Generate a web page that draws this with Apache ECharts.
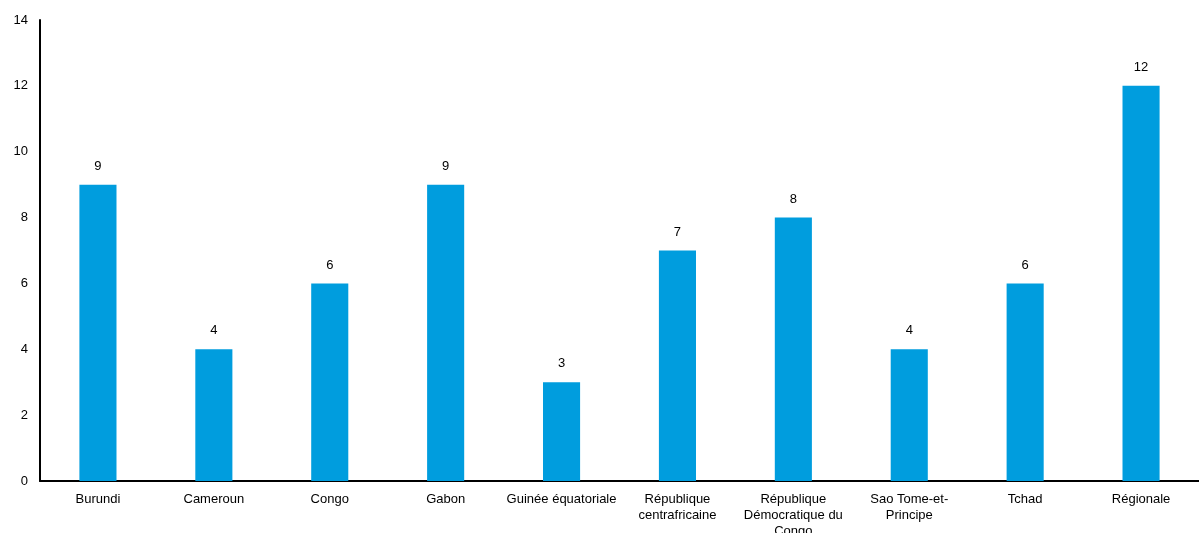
<!DOCTYPE html>
<html>
<head>
<meta charset="utf-8">
<script src="https://cdn.jsdelivr.net/npm/echarts@6/dist/echarts.min.js"></script>
<style>
  html, body { margin: 0; padding: 0; background: #fff; }
  #main { width: 1199px; height: 533px; }
</style>
</head>
<body>
<div id="main"></div>
<script>
var categories = ['Burundi', 'Cameroun', 'Congo', 'Gabon', 'Guinée équatoriale',
  'République\ncentrafricaine', 'République\nDémocratique du\nCongo',
  'Sao Tome-et-\nPrincipe', 'Tchad', 'Régionale'];
var values = [9, 4, 6, 9, 3, 7, 8, 4, 6, 12];

var chart = echarts.init(document.getElementById('main'));

var option = {
  animation: false,
  textStyle: { fontFamily: 'Liberation Sans, Arial, sans-serif' },
  grid: { left: 40, right: 0, top: 20, bottom: 52, outerBoundsMode: 'none', containLabel: false },
  xAxis: {
    type: 'category',
    data: categories,
    axisTick: { show: false },
    axisLine: { lineStyle: { color: '#000', width: 2 } },
    axisLabel: { color: '#000', fontSize: 13, lineHeight: 16, margin: 10, interval: 0 }
  },
  yAxis: {
    type: 'value',
    min: 0,
    max: 14,
    interval: 2,
    axisLine: { show: true, lineStyle: { color: '#000', width: 2 } },
    axisTick: { show: false },
    splitLine: { show: false },
    axisLabel: { color: '#000', fontSize: 13, margin: 12 }
  },
  series: [{
    type: 'bar',
    data: values,
    barWidth: '32%',
    itemStyle: { color: '#009DDE' },
    label: { show: true, position: 'top', color: '#000', fontSize: 13, distance: 12 }
  }]
};

chart.setOption(option);
</script>
</body>
</html>
